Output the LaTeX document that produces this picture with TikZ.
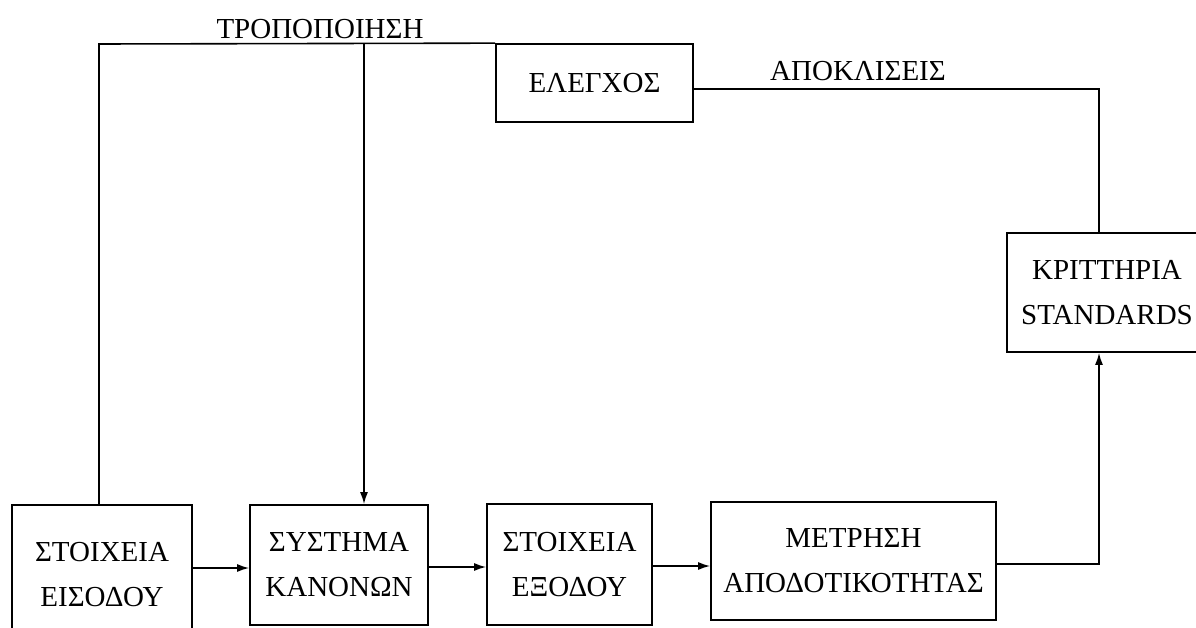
\documentclass[tikz,border=0pt]{standalone}
\usepackage{fontspec}
\setmainfont{Liberation Serif}
\usetikzlibrary{arrows.meta}
\begin{document}
\begin{tikzpicture}[x=1pt,y=-1pt,
  every node/.style={font=\fontsize{29}{45}\selectfont},
  blk/.style={draw, line width=1.7pt, inner sep=0pt, align=center},
  wire/.style={line width=1.6pt},
  arr/.style={wire, -{Latex[length=12pt,width=8pt]}},
  lbl/.style={inner sep=0pt}]
  \fill[white] (0,0) rectangle (1196,628);
  \clip (0,0) rectangle (1196,628);

  % blocks of the process chain
  \node[blk, minimum width=180, minimum height=140] (inp) at (102,575) {ΣΤΟΙΧΕΙΑ\\ΕΙΣΟΔΟΥ};
  \node[blk, minimum width=178, minimum height=120] (rules) at (339,565) {ΣΥΣΤΗΜΑ\\ΚΑΝΟΝΩΝ};
  \node[blk, minimum width=165, minimum height=121] (outp) at (569.5,564.5) {ΣΤΟΙΧΕΙΑ\\ΕΞΟΔΟΥ};
  \node[blk, minimum width=285, minimum height=118] (meas) at (853.5,561) {ΜΕΤΡΗΣΗ\\ΑΠΟΔΟΤΙΚΟΤΗΤΑΣ};
  \node[blk, minimum width=200, minimum height=119] (crit) at (1107,292.5) {ΚΡΙΤΤΗΡΙΑ\\STANDARDS};
  \node[blk, minimum width=197, minimum height=78] (ctrl) at (594.5,83) {ΕΛΕΓΧΟΣ};

  % labels on the feedback lines
  \node[lbl] (mod) at (320,29) {ΤΡΟΠΟΠΟΙΗΣΗ};
  \node[lbl] (dev) at (858,71) {ΑΠΟΚΛΙΣΕΙΣ};

  % guide points of the feedback loop
  \coordinate (tl) at (99,44);
  \coordinate (tm) at (364,44);
  \coordinate (rv) at (1099,0);

  % forward chain
  \draw[arr] (inp.east |- 0,568) -- (rules.west |- 0,568);
  \draw[arr] (rules.east |- 0,567) -- (outp.west |- 0,567);
  \draw[arr] (outp.east |- 0,566) -- (meas.west |- 0,566);
  \draw[arr] (meas.east |- 0,564) -| (rv |- crit.south);

  % feedback: deviations to control, modification back to the inputs
  \draw[wire] (rv |- crit.north) |- ([yshift=-6pt]ctrl.east);
  \draw[wire] (ctrl.north west) -- (tl) -- (tl |- inp.north);
  \draw[arr] (tm) -- (tm |- rules.north);
\end{tikzpicture}
\end{document}
